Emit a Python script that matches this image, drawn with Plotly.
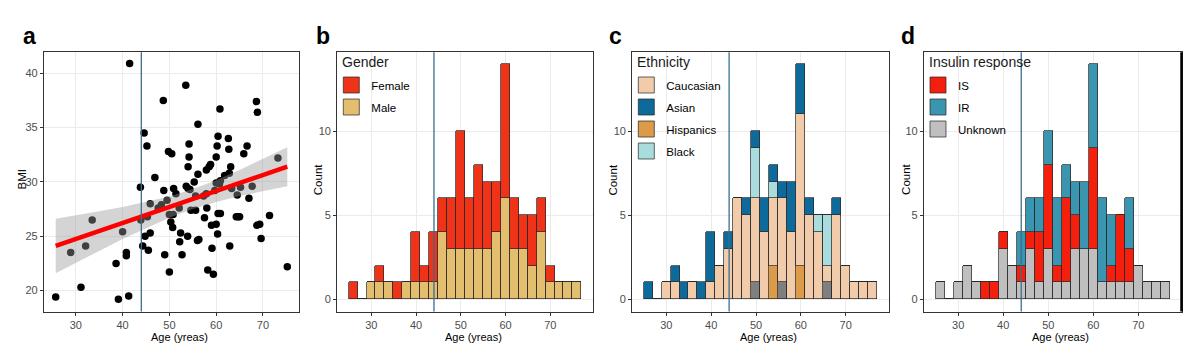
import plotly.graph_objects as go

# ---------------- data ----------------
# Panel a: Age vs BMI
age_a = [25.7, 28.9, 31.1, 32.1, 33.5, 38.6, 39.1, 40.0, 40.8, 40.8, 41.3, 41.5,
         43.8, 43.9, 44.3, 44.6, 45.2, 44.8, 45.3, 45.5, 45.9, 45.9, 46.9, 47.6,
         48.3, 48.7, 48.8, 49.0, 49.5, 49.8, 50.0, 50.5, 50.0, 50.3, 50.7, 50.8,
         50.9, 51.4, 52.1, 52.2, 52.4, 52.7, 53.5, 53.6, 53.9, 54.0, 54.2, 54.2,
         54.0, 54.4, 54.6, 55.3, 55.6, 55.6, 56.0, 56.1, 56.1, 56.3, 57.3, 57.5,
         57.9, 58.0, 57.9, 58.2, 58.5, 58.8, 59.0, 59.1, 59.4, 59.7, 60.0, 60.2,
         60.4, 60.0, 60.0, 60.3, 60.4, 60.7, 60.9, 60.8, 60.9, 61.8, 62.6, 62.7,
         62.8, 62.9, 63.1, 63.3, 64.3, 64.5, 64.7, 65.0, 65.2, 65.9, 66.6, 67.0,
         67.7, 68.6, 68.8, 68.7, 69.3, 69.6, 71.4, 73.2, 75.2]
bmi_a = [19.4, 23.5, 20.3, 24.1, 26.5, 22.5, 19.2, 25.4, 23.5, 23.2, 19.5, 40.9,
         29.5, 26.5, 24.1, 34.5, 33.3, 25.0, 26.8, 23.7, 28.0, 25.3, 30.4, 27.6,
         27.9, 37.5, 29.2, 23.3, 28.3, 32.8, 21.7, 32.6, 27.0, 26.3, 25.8, 27.0,
         29.4, 28.9, 27.6, 24.5, 25.3, 23.3, 38.9, 29.6, 25.0, 29.4, 33.5, 32.3,
         31.4, 29.3, 27.4, 30.0, 28.7, 27.4, 24.6, 35.3, 30.7, 24.7, 28.7, 26.7,
         28.9, 27.6, 31.1, 21.9, 31.4, 31.6, 26.0, 23.9, 21.5, 29.2, 32.3, 33.3,
         34.2, 29.9, 26.1, 25.2, 27.1, 29.8, 30.1, 36.7, 27.1, 30.6, 34.0, 33.0,
         30.8, 24.1, 31.4, 29.4, 26.8, 28.8, 26.8, 26.8, 29.5, 32.6, 33.3, 28.5,
         29.6, 37.4, 36.4, 26.0, 26.1, 24.8, 26.9, 32.2, 22.2]

# linear fit and its confidence band
fit_x = [25.7, 30, 35, 40, 45, 50, 55, 60, 65, 70, 75.2]
fit_mid = [24.1, 24.73, 25.47, 26.21, 26.95, 27.69, 28.42, 29.16, 29.9, 30.63, 31.4]
fit_lo = [21.6, 22.55, 23.65, 24.75, 25.75, 26.7, 27.5, 28.15, 28.7, 29.15, 29.6]
fit_hi = [26.6, 26.9, 27.3, 27.7, 28.15, 28.65, 29.35, 30.15, 31.1, 32.1, 33.2]

cutoff_age = 44

# Histogram bins (2-year bins, centres)
bin_centres = [26, 28, 30, 32, 34, 36, 38, 40, 42, 44, 46, 48, 50, 52, 54, 56, 58,
               60, 62, 64, 66, 68, 70, 72, 74, 76]

# Panel b: gender
male = [0, 0, 1, 1, 1, 0, 1, 1, 1, 1, 4, 3, 3, 3, 3, 3, 4, 6, 3, 3, 2, 4, 1, 1, 1, 1]
female = [1, 0, 0, 1, 0, 1, 0, 3, 1, 3, 2, 3, 7, 3, 5, 4, 3, 8, 3, 2, 3, 2, 1, 0, 0, 0]

# Panel c: ethnicity
eth_na = [0, 0, 0, 0, 0, 0, 0, 0, 0, 0, 0, 0, 1, 0, 0, 1, 0, 0, 0, 0, 1, 0, 0, 0, 0, 0]
hispanics = [0, 0, 0, 0, 0, 0, 0, 0, 0, 0, 0, 0, 0, 0, 2, 0, 0, 2, 0, 0, 0, 0, 0, 0, 0, 0]
caucasian = [0, 0, 1, 1, 0, 1, 0, 1, 2, 3, 6, 5, 5, 4, 4, 5, 4, 9, 5, 4, 1, 5, 2, 1, 1, 1]
black = [0, 0, 0, 0, 0, 0, 0, 0, 0, 0, 0, 0, 3, 0, 1, 0, 0, 0, 0, 1, 3, 0, 0, 0, 0, 0]
asian = [1, 0, 0, 1, 1, 0, 1, 3, 0, 1, 0, 1, 1, 2, 1, 1, 3, 3, 1, 0, 0, 1, 0, 0, 0, 0]

# Panel d: insulin response
unknown = [1, 0, 1, 2, 1, 0, 0, 3, 2, 1, 3, 1, 3, 1, 1, 3, 3, 3, 1, 1, 1, 1, 2, 1, 1, 1]
ins_s = [0, 0, 0, 0, 0, 1, 1, 1, 0, 1, 1, 3, 5, 1, 5, 2, 0, 6, 0, 1, 4, 2, 0, 0, 0, 0]
ins_r = [0, 0, 0, 0, 0, 0, 0, 0, 0, 2, 2, 2, 2, 4, 2, 2, 4, 5, 5, 3, 0, 3, 0, 0, 0, 0]

x_ticks = [30, 40, 50, 60, 70]

# ---------------- styling ----------------
FONT = "Liberation Sans"
OFF = 8                      # page body margin
W, H = 1200 - OFF, 364 - OFF
GRID = "#EBEBEB"
BORDER = "#333333"
TICKC = "#4D4D4D"
VLINE = "#3B6E8F"
OUT = "rgba(40,40,40,0.9)"


def px(x):
    return (x - OFF) / W


def py(y):
    return 1 - (y - OFF) / H


panels = [  # left, right page pixel of plotting areas
    (44, 299),
    (337.3, 593.3),
    (632.3, 888.7),
    (924, 1181.5),
]
top_px, bot_px = 52.3, 311.5
ydom = [py(bot_px), py(top_px)]

fig = go.Figure()

# ---- panel a ----
fig.add_trace(go.Scatter(x=age_a, y=bmi_a, mode="markers", xaxis="x", yaxis="y",
                         marker=dict(color="black", size=7.5), showlegend=False,
                         hoverinfo="skip"))
fig.add_trace(go.Scatter(x=fit_x + fit_x[::-1], y=fit_hi + fit_lo[::-1], xaxis="x", yaxis="y",
                         fill="toself", fillcolor="rgba(153,153,153,0.42)",
                         line=dict(width=0), mode="lines", showlegend=False, hoverinfo="skip"))
fig.add_trace(go.Scatter(x=fit_x, y=fit_mid, xaxis="x", yaxis="y", mode="lines",
                         line=dict(color="#FF0000", width=4.5), showlegend=False))


def add_bars(vals, color, name, ax, legend, rank, show=True):
    fig.add_trace(go.Bar(x=bin_centres, y=vals, width=2, name=name,
                         xaxis="x" + ax, yaxis="y" + ax,
                         marker=dict(color=color, line=dict(color=OUT, width=0.8)),
                         showlegend=False, hoverinfo="skip"))
    if show:
        fig.add_trace(go.Scatter(x=[None], y=[None], mode="markers", name=name,
                                 xaxis="x" + ax, yaxis="y" + ax,
                                 marker=dict(symbol="square", size=16, color=color,
                                             line=dict(color=OUT, width=0.8)),
                                 legend=legend, legendrank=rank, legendgroup=name,
                                 showlegend=True))


# ---- panel b ----
add_bars(male, "#E2BE6E", "Male", "2", "legend", 2)
add_bars(female, "#EF3319", "Female", "2", "legend", 1)
# ---- panel c ----
add_bars(eth_na, "#7F7F7F", "NA", "3", "legend2", 9, show=False)
add_bars(hispanics, "#DB9B48", "Hispanics", "3", "legend2", 3)
add_bars(caucasian, "#F2CCAA", "Caucasian", "3", "legend2", 1)
add_bars(black, "#A9DCDC", "Black", "3", "legend2", 4)
add_bars(asian, "#0E6A9B", "Asian", "3", "legend2", 2)
# ---- panel d ----
add_bars(unknown, "#BFBFBF", "Unknown", "4", "legend3", 3)
add_bars(ins_s, "#F41F0C", "IS", "4", "legend3", 1)
add_bars(ins_r, "#3A95B1", "IR", "4", "legend3", 2)

axis_common = dict(showline=True, mirror=True, linecolor=BORDER, linewidth=1.3,
                   showgrid=True, gridcolor=GRID, gridwidth=1, zeroline=False,
                   ticks="outside", ticklen=3, tickcolor=BORDER,
                   tickfont=dict(family=FONT, size=11, color=TICKC))

layout = dict(
    width=W, height=H, margin=dict(l=0, r=0, t=0, b=0),
    paper_bgcolor="white", plot_bgcolor="white", barmode="stack", bargap=0,
    font=dict(family=FONT, color="black"),
)
layout["xaxis"] = dict(domain=[px(panels[0][0]), px(panels[0][1])], range=[23.2, 77.7],
                       tickvals=x_ticks, anchor="y", **axis_common)
layout["yaxis"] = dict(domain=ydom, range=[18.07, 41.93], tickvals=[20, 25, 30, 35, 40],
                       anchor="x", **axis_common)
for i in (2, 3, 4):
    layout[f"xaxis{i}"] = dict(domain=[px(panels[i - 1][0]), px(panels[i - 1][1])],
                               range=[22.4, 79.6], tickvals=x_ticks,
                               anchor=f"y{i}", **axis_common)
    layout[f"yaxis{i}"] = dict(domain=ydom, range=[-0.72, 14.72], tickvals=[0, 5, 10],
                               anchor=f"x{i}", **axis_common)

leg_common = dict(bgcolor="rgba(0,0,0,0)", borderwidth=0, xanchor="left", yanchor="top",
                  itemsizing="trace", tracegroupgap=3,
                  font=dict(family=FONT, size=11.5, color="black"))
legend_titles = ["Gender", "Ethnicity", "Insulin response"]
for k, name in enumerate(("legend", "legend2", "legend3")):
    left = panels[k + 1][0]
    layout[name] = dict(x=px(left - 6), y=py(70.5), **leg_common)
fig.update_layout(**layout)

# legend titles
for k, t in enumerate(legend_titles):
    fig.add_annotation(text=t, x=px(panels[k + 1][0] + 3), y=py(62), xref="paper", yref="paper",
                       xanchor="left", yanchor="middle", showarrow=False,
                       font=dict(family=FONT, size=14, color="#1a1a1a"))

# cutoff lines
for ax in ("x", "x2", "x3", "x4"):
    yref = ("y" + ax[1:]) if len(ax) > 1 else "y"
    fig.add_shape(type="line", x0=cutoff_age, x1=cutoff_age, xref=ax, y0=0, y1=1,
                  yref=yref + " domain", line=dict(color=VLINE, width=1.3), layer="above")

# heavier right edge of the last panel
fig.add_shape(type="line", x0=1, x1=1, xref="x4 domain", y0=0, y1=1, yref="y4 domain",
              line=dict(color="black", width=2.5), layer="above")

# panel letters
for letter, xp in (("a", 21), ("b", 314), ("c", 607), ("d", 899)):
    fig.add_annotation(text=f"<b>{letter}</b>", x=px(xp), y=py(36), xref="paper", yref="paper",
                       xanchor="left", yanchor="middle", showarrow=False,
                       font=dict(family=FONT, size=23, color="black"))

# axis titles
for (l, r), ytitle, yx in zip(panels, ("BMI", "Count", "Count", "Count"), (21.5, 318.3, 612.7, 906)):
    fig.add_annotation(text="Age (yreas)", x=px((l + r) / 2 + 8), y=py(336.5), xref="paper",
                       yref="paper", xanchor="center", yanchor="middle", showarrow=False,
                       font=dict(family=FONT, size=11, color="black"))
    fig.add_annotation(text=ytitle, x=px(yx), y=py((top_px + bot_px) / 2 - 2), xref="paper",
                       yref="paper", xanchor="center", yanchor="middle", showarrow=False,
                       textangle=-90, font=dict(family=FONT, size=11.5, color="black"))

fig.write_html("out.html")
